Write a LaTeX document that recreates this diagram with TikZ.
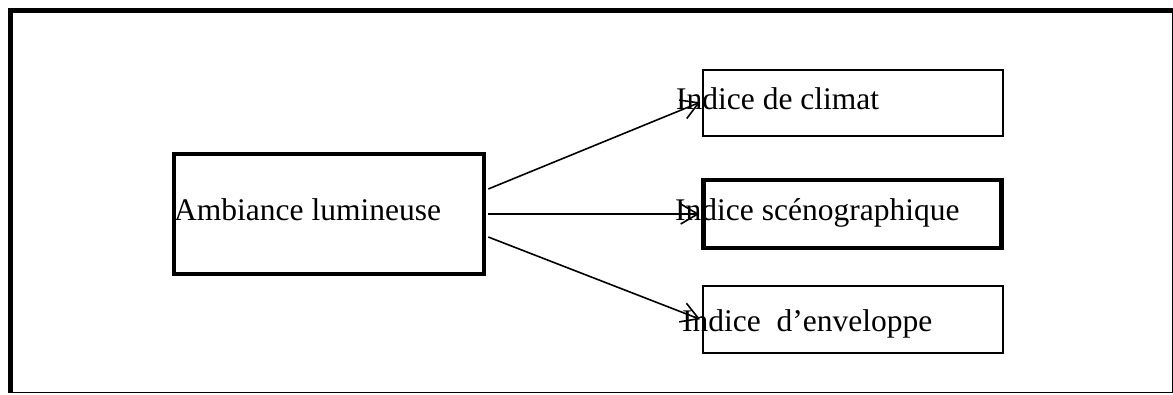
\documentclass[tikz,border=0pt]{standalone}
\usepackage{fontspec}
\setmainfont{Liberation Serif}
\usetikzlibrary{arrows.meta}
\begin{document}
\begin{tikzpicture}[x=1pt,y=-1pt,
  thinbox/.style={draw, line width=2pt, minimum width=300pt, minimum height=66pt, inner sep=0pt},
  thickbox/.style={draw, line width=4.5pt, minimum width=298pt, minimum height=68pt, inner sep=0pt},
  label/.style={anchor=base west, inner sep=0pt, font=\fontsize{31.5}{36}\selectfont},
  link/.style={line width=1.6pt, shorten >=2pt, -{Straight Barb[length=17pt,width=20pt,line width=1.6pt]}}]
\useasboundingbox (0,0) rectangle (1173,394);
% outer frame: heavy top and left rules, light right and bottom rules
\draw[line width=5pt] (10,392.5) -- (10,10) -- (1172.5,10);
\draw[line width=1.2pt] (1172.4,10) -- (1172.4,392.6) -- (10,392.6);
% source box
\node[draw, line width=4.5pt, minimum width=310pt, minimum height=120pt, inner sep=0pt] (main) at (329,214) {};
% target boxes
\node[thinbox] (clim) at (853,103) {};
\node[thickbox] (scen) at (852.5,214) {};
\node[thinbox, minimum height=67pt] (env) at (853,319.5) {};
% texts
\node[label] (tmain) at (174,220) {Ambiance lumineuse};
\node[label] (tclim) at (676,109) {Indice de climat};
\node[label] (tscen) at (675,220) {Indice scénographique};
\node[label] (tenv) at (682,331.5) {Indice\ \ d’enveloppe};
% connectors
\draw[link] ([xshift=2pt,yshift=25pt]main.east) -- ([yshift=1.5pt]clim.west);
\draw[link] ([xshift=2pt]main.east) -- (scen.west);
\draw[link] ([xshift=2pt,yshift=-23pt]main.east) -- ([yshift=-0.5pt]env.west);
\end{tikzpicture}
\end{document}
